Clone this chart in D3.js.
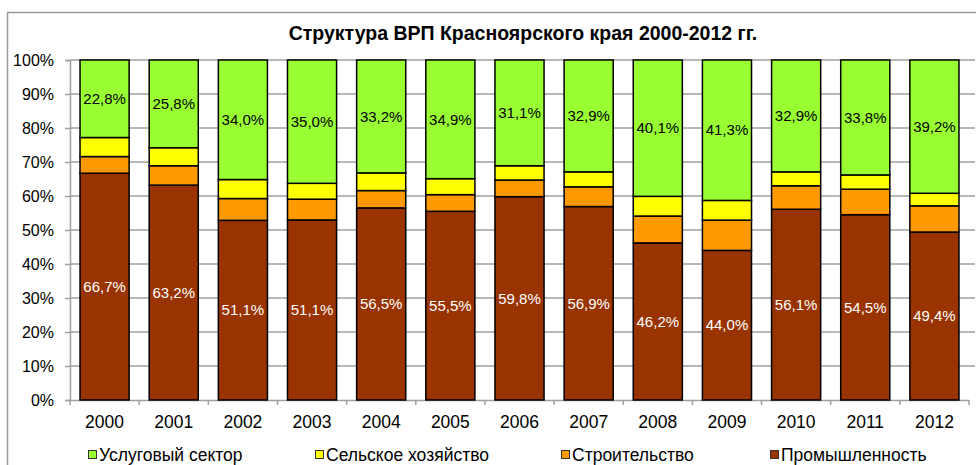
<!DOCTYPE html>
<html>
<head>
<meta charset="utf-8">
<script src="https://cdnjs.cloudflare.com/ajax/libs/d3/7.8.5/d3.min.js"></script>
<style>
  html, body { margin: 0; padding: 0; background: #fff; }
  svg { display: block; font-family: "Liberation Sans", Arial, sans-serif; }
</style>
</head>
<body>
<svg id="chart" width="976" height="465"></svg>
<script>
const years = ["2000","2001","2002","2003","2004","2005","2006","2007","2008","2009","2010","2011","2012"];
const industry     = [66.7, 63.2, 51.1, 51.1, 56.5, 55.5, 59.8, 56.9, 46.2, 44.0, 56.1, 54.5, 49.4];
const construction = [4.9, 5.7, 6.2, 5.9, 5.1, 4.9, 4.9, 5.8, 7.9, 8.9, 6.9, 7.5, 7.7];
const agriculture  = [5.6, 5.3, 5.4, 4.5, 5.2, 4.7, 4.2, 4.4, 5.8, 5.8, 4.1, 4.2, 3.7];
const services     = [22.8, 25.8, 34.0, 35.0, 33.2, 34.9, 31.1, 32.9, 40.1, 41.3, 32.9, 33.8, 39.2];
const yTicks = [0, 0.1, 0.2, 0.3, 0.4, 0.5, 0.6, 0.7, 0.8, 0.9, 1.0];
const titleText = "Структура ВРП Красноярского края 2000-2012 гг.";
const seriesNames = {
  industry: "Промышленность",
  construction: "Строительство",
  agriculture: "Сельское хозяйство",
  services: "Услуговый сектор"
};
const colors = {
  industry: "#993300",
  construction: "#FF9900",
  agriculture: "#FFFF00",
  services: "#99FF33"
};
const keys = ["industry", "construction", "agriculture", "services"];
const legendOrder = ["services", "agriculture", "construction", "industry"];

const table = years.map((yr, i) => ({
  year: yr,
  industry: industry[i],
  construction: construction[i],
  agriculture: agriculture[i],
  services: services[i]
}));

const svg = d3.select("#chart");

// outer frame
svg.append("rect")
  .attr("x", 7.5).attr("y", 12.5)
  .attr("width", 1000).attr("height", 1000)
  .attr("fill", "none").attr("stroke", "#9a9a9a").attr("stroke-width", 1.5);

const pLeft = 70, pRight = 969, pTop = 60, pBottom = 400;

const x = d3.scaleBand().domain(years).range([pLeft, pRight])
  .paddingInner(0.29).paddingOuter(0.145);
const y = d3.scaleLinear().domain([0, 1]).range([pBottom, pTop]);

// gridlines
svg.append("g").selectAll("line").data(yTicks.filter(t => t > 0)).join("line")
  .attr("x1", pLeft).attr("x2", pRight + 6)
  .attr("y1", d => y(d)).attr("y2", d => y(d))
  .attr("stroke", "#a0a0a0").attr("stroke-width", 1.5);

// y axis
const yAxis = svg.append("g").attr("transform", `translate(${pLeft},0)`)
  .call(d3.axisLeft(y).tickValues(yTicks).tickFormat(d3.format(".0%")).tickSize(5).tickPadding(11));
yAxis.select(".domain").attr("stroke", "#a0a0a0").attr("stroke-width", 1.5);
yAxis.selectAll(".tick line").attr("stroke", "#a0a0a0").attr("stroke-width", 1.5);
yAxis.selectAll("text").attr("font-size", 16).attr("fill", "#000")
  .attr("font-family", "'Liberation Sans', Arial, sans-serif");

// x axis
const xAxis = svg.append("g").attr("transform", `translate(0,${pBottom})`)
  .call(d3.axisBottom(x).tickSize(0).tickPadding(16));
xAxis.select(".domain").attr("stroke", "#a0a0a0").attr("stroke-width", 1.5);
xAxis.selectAll("text").attr("font-size", 17.5).attr("fill", "#000")
  .attr("font-family", "'Liberation Sans', Arial, sans-serif");
const step = x.step();
svg.append("g").selectAll("line").data(d3.range(years.length + 1)).join("line")
  .attr("x1", i => pLeft + i * step).attr("x2", i => pLeft + i * step)
  .attr("y1", pBottom).attr("y2", pBottom + 5)
  .attr("stroke", "#a0a0a0").attr("stroke-width", 1.5);

// stacked bars
const stack = d3.stack().keys(keys).offset(d3.stackOffsetExpand);
const series = stack(table);

const groups = svg.append("g").selectAll("g").data(series).join("g")
  .attr("fill", d => colors[d.key]);
groups.selectAll("rect").data(d => d).join("rect")
  .attr("x", d => x(d.data.year))
  .attr("width", x.bandwidth())
  .attr("y", d => y(d[1]))
  .attr("height", d => y(d[0]) - y(d[1]))
  .attr("stroke", "#000").attr("stroke-width", 1.5);

// data labels
const fmt = v => d3.format(".1f")(v).replace(".", ",") + "%";
const labelSeries = series.filter(s => s.key === "industry" || s.key === "services");
labelSeries.forEach(s => {
  svg.append("g").selectAll("text").data(s).join("text")
    .attr("x", d => x(d.data.year) + x.bandwidth() / 2)
    .attr("y", d => (y(d[0]) + y(d[1])) / 2)
    .attr("dy", "0.35em")
    .attr("text-anchor", "middle")
    .attr("font-size", 15)
    .attr("fill", s.key === "industry" ? "#fff" : "#000")
    .text(d => fmt(d.data[s.key]));
});

// title
svg.append("text")
  .attr("x", 523).attr("y", 40)
  .attr("text-anchor", "middle")
  .attr("font-size", 19.5).attr("font-weight", "bold")
  .text(titleText);

// legend
const legendX = [88, 315, 561, 770];
const lg = svg.append("g").selectAll("g").data(legendOrder).join("g")
  .attr("transform", (d, i) => `translate(${legendX[i]},455)`);
lg.append("rect")
  .attr("x", 0.5).attr("y", -4.5).attr("width", 8).attr("height", 8)
  .attr("fill", d => colors[d]).attr("stroke", "#333").attr("stroke-width", 1);
lg.append("text")
  .attr("x", 11).attr("y", 0).attr("dy", "0.35em")
  .attr("font-size", 17.5)
  .text(d => seriesNames[d]);
</script>
</body>
</html>
